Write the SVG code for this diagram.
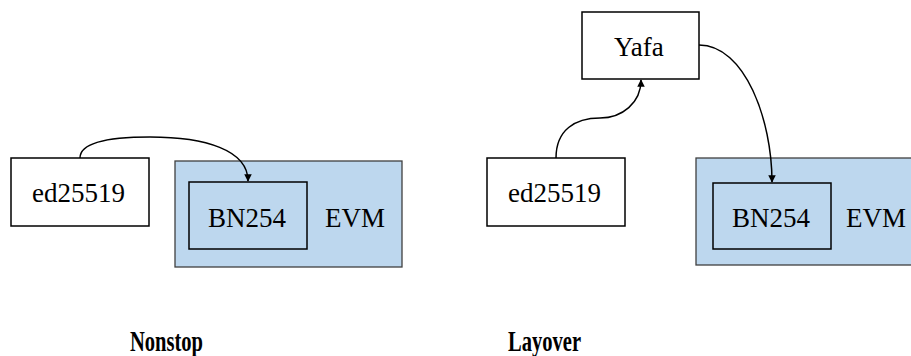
<svg xmlns="http://www.w3.org/2000/svg" width="911" height="356" viewBox="0 0 911 356">
<defs>
<style>
.box{fill:#ffffff;stroke:#000;stroke-width:1.5}
.outer{fill:#bdd7ee;stroke:#404040;stroke-width:1.3}
.inner{fill:#bdd7ee;stroke:#000;stroke-width:1.5}
.t{font-family:"Liberation Serif","Times New Roman",serif;font-size:27px;fill:#000}
.title{font-family:"Liberation Serif","Times New Roman",serif;font-size:29px;font-weight:bold;fill:#000}
.c{fill:none;stroke:#000;stroke-width:1.5;marker-end:url(#arr)}
</style>
<marker id="arr" viewBox="0 0 10 10" refX="9" refY="5" markerWidth="5" markerHeight="5" orient="auto" markerUnits="strokeWidth">
<path d="M0,0 L10,5 L0,10 z" fill="#000"/>
</marker>
</defs>
<rect width="911" height="356" fill="#fff"/>
<g id="left-ed25519"><rect class="box" x="11" y="158" width="138" height="68"/><text class="t" x="32" y="202">ed25519</text></g>
<g id="left-evm"><rect class="outer" x="175" y="161" width="227" height="106"/><text class="t" x="325" y="227">EVM</text></g>
<g id="left-bn254"><rect class="inner" x="189" y="182" width="118" height="67"/><text class="t" x="208" y="227">BN254</text></g>
<g id="yafa"><rect class="box" x="582" y="12" width="117" height="67"/><text class="t" x="614" y="56">Yafa</text></g>
<g id="right-ed25519"><rect class="box" x="487" y="158" width="138" height="68"/><text class="t" x="508" y="202">ed25519</text></g>
<g id="right-evm"><rect class="outer" x="696" y="158" width="220" height="107"/><text class="t" x="846" y="227">EVM</text></g>
<g id="right-bn254"><rect class="inner" x="713" y="183" width="118" height="66"/><text class="t" x="732" y="227">BN254</text></g>
<g id="connectors">
<path class="c" d="M80,158 C80,142 110,137 150,137 C205,137 248,150 248,181"/>
<path class="c" d="M556,158 C556,130 575,118 600,118 C622,118 641,103 641,80"/>
<path class="c" d="M699,45 C745,45 772,120 772,182"/>
</g>
<text class="title" x="130" y="351" textLength="73" lengthAdjust="spacingAndGlyphs">Nonstop</text>
<text class="title" x="508" y="351" textLength="73" lengthAdjust="spacingAndGlyphs">Layover</text>
</svg>
